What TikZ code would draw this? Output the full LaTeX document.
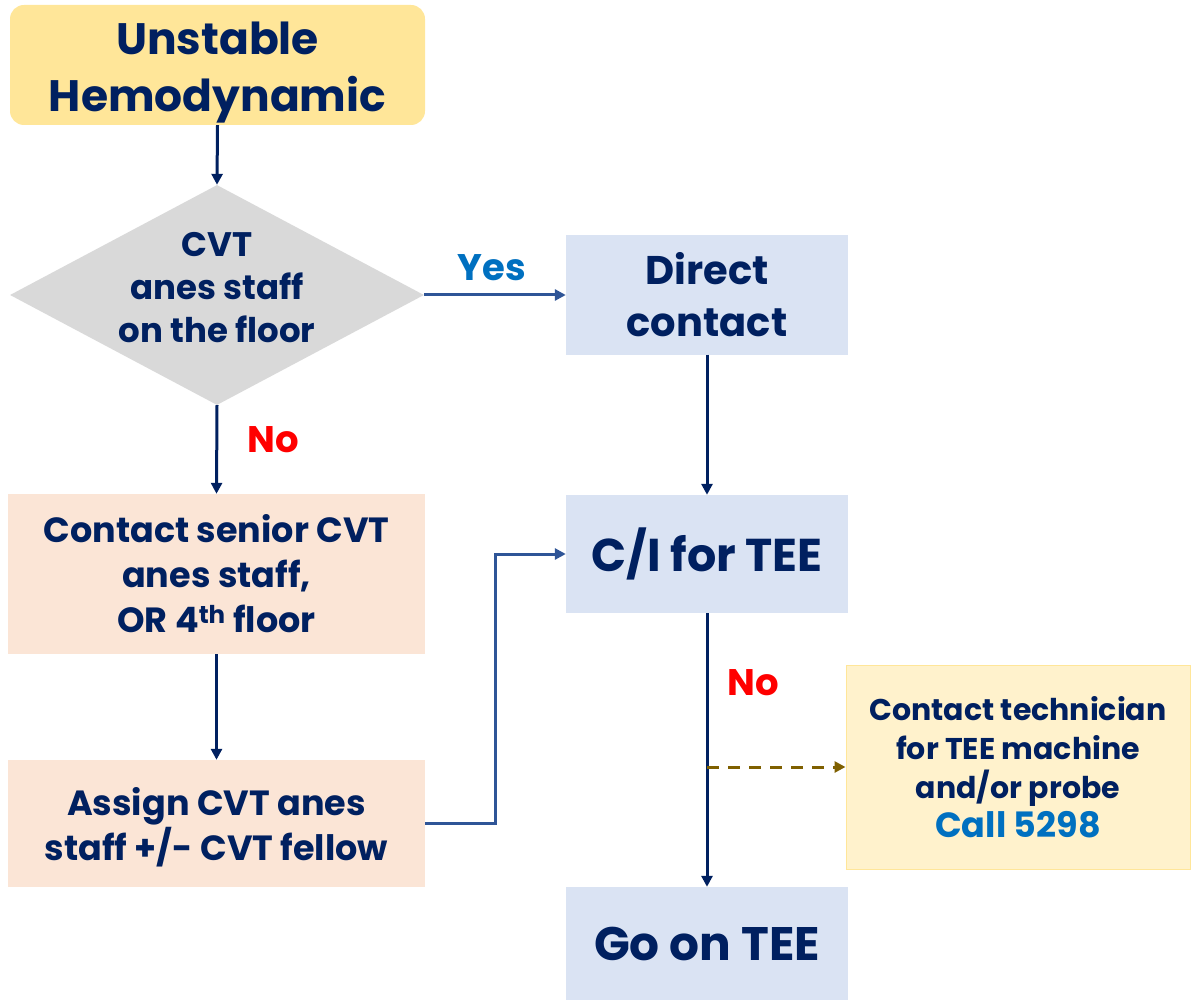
\documentclass[tikz,border=0pt]{standalone}
\usepackage{fontspec}
\setmainfont{Poppins}
\usetikzlibrary{shapes.geometric,arrows.meta,calc}
\definecolor{navy}{HTML}{002060}
\definecolor{midblue}{HTML}{2F5597}
\definecolor{yesblue}{HTML}{0070C0}
\definecolor{olive}{HTML}{7F6000}
\definecolor{topfill}{HTML}{FFE699}
\definecolor{grayfill}{HTML}{D9D9D9}
\definecolor{bluefill}{HTML}{DAE3F3}
\definecolor{peachfill}{HTML}{FBE5D6}
\definecolor{techfill}{HTML}{FFF2CC}
\newcommand{\fs}[2]{\bfseries\fontsize{#1}{#2}\selectfont}
\begin{document}
\begin{tikzpicture}[x=1pt,y=-1pt,
  txt/.style={text=navy,align=center},
  box/.style={txt,inner sep=0pt,draw=none},
  arr/.style={draw=navy,line width=3pt,-{Triangle[width=11pt,length=11pt]}},
  barr/.style={draw=midblue,line width=3pt,-{Triangle[width=11pt,length=11pt]}},
  lbl/.style={font=\fs{37}{44}}
]
\useasboundingbox (0,0) rectangle (1191,1000);
% nodes
\node[box,fill=topfill,rounded corners=14pt,minimum width=415pt,minimum height=120pt] (top) at (217.5,65) {};
\node[txt,font=\fs{44}{57}] (toptext) at (217.5,73) {Unstable\\Hemodynamic};
\node[diamond,fill=grayfill,minimum width=414pt,minimum height=220pt,inner sep=0pt] (dec) at (217,295) {};
\node[txt,font=\fs{34}{43}] (dectext) at (217,288) {CVT\\anes staff\\on the floor};
\node[box,fill=bluefill,minimum width=282pt,minimum height=119pt,font=\fs{40}{52}] (direct) at (707,295)
  {Direct\\contact};
\node[box,fill=peachfill,minimum width=417pt,minimum height=160pt,font=\fs{35}{45}] (senior) at (216.5,574)
  {Contact senior CVT\\anes staff,\\OR 4\textsuperscript{th} floor};
\node[box,fill=peachfill,minimum width=417pt,minimum height=127pt] (assign) at (216.5,823.5) {};
\node[txt,font=\fs{35}{45}] (assigntext) at (216.5,827) {Assign CVT anes\\staff +/- CVT fellow};
\node[box,fill=bluefill,minimum width=282pt,minimum height=118pt,font=\fs{46}{50}] (ci) at (707,554)
  {C/I for TEE};
\node[box,fill=techfill,draw=topfill,line width=1pt,minimum width=344pt,minimum height=204pt,font=\fs{30}{39}] (tech) at (1018,767)
  {Contact technician\\for TEE machine\\and/or probe\\\textcolor{yesblue}{\fs{35}{39}Call 5298}};
\node[box,fill=bluefill,minimum width=282pt,minimum height=113pt,font=\fs{47}{50}] (goon) at (707,943.5)
  {Go on TEE};
% labels
\node[lbl,text=yesblue] (yes) at (492,268) {Yes};
\node[lbl,text=red] (no1) at (273,440) {No};
\node[lbl,text=red] (no2) at (753,683) {No};
% connectors
\draw[arr] (top.south) -- (dec.north);
\draw[barr] (dec.east) -- (direct.west);
\draw[arr] (dec.south) -- (senior.north);
\draw[arr] (senior.south) -- (assign.north);
\draw[barr] (assign.east) -- ++(70,0) |- (ci.west);
\draw[arr] (direct.south) -- (ci.north);
\draw[arr] (ci.south) -- (goon.north);
\coordinate (branch) at (ci.south |- tech.west);
\draw[draw=olive,line width=3pt,dash pattern=on 12pt off 9pt,-{Triangle[width=11pt,length=11pt]}] (branch) -- (tech.west);
\end{tikzpicture}
\end{document}
